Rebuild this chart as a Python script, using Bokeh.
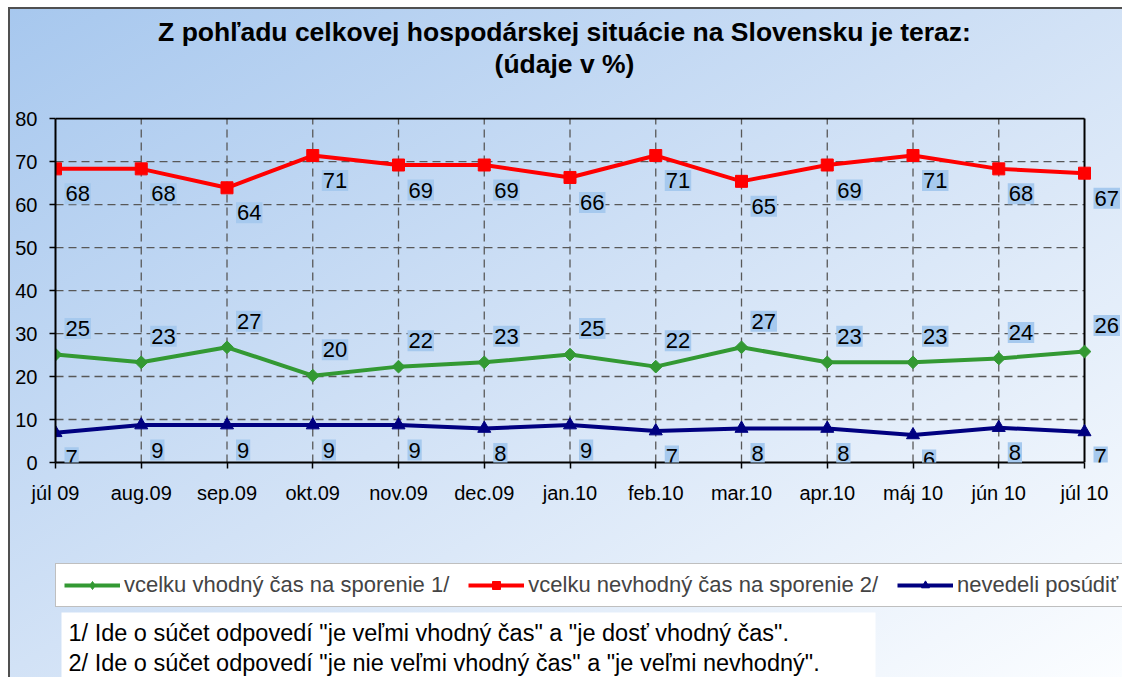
from bokeh.plotting import figure
from bokeh.layouts import column
from bokeh.models import Range1d, FixedTicker, Label, Legend, LegendItem, BoxAnnotation
from bokeh.embed import file_html
from bokeh.resources import INLINE
import math

months = ["júl 09", "aug.09", "sep.09", "okt.09", "nov.09", "dec.09", "jan.10",
          "feb.10", "mar.10", "apr.10", "máj 10", "jún 10", "júl 10"]
vhodny = [25.1, 23.3, 26.8, 20.2, 22.3, 23.3, 25.1, 22.3, 26.8, 23.3, 23.3, 24.2, 25.8]
nevhodny = [68.3, 68.3, 63.9, 71.4, 69.2, 69.2, 66.3, 71.4, 65.4, 69.2, 71.4, 68.3, 67.3]
nevedeli = [6.9, 8.7, 8.7, 8.7, 8.7, 7.9, 8.7, 7.3, 7.9, 7.9, 6.4, 8.1, 7.1]
y_ticks = [0, 10, 20, 30, 40, 50, 60, 70, 80]

title_lines = ["Z pohľadu celkovej hospodárskej situácie na Slovensku je teraz:", "(údaje v %)"]
series_names = ["vcelku vhodný čas na sporenie 1/", "vcelku nevhodný čas na sporenie 2/", "nevedeli posúdiť"]
foot = ['1/ Ide o súčet odpovedí "je veľmi vhodný čas" a  "je dosť vhodný čas".',
        '2/ Ide o súčet odpovedí "je nie veľmi vhodný čas" a "je veľmi nevhodný".']

FONT = "Liberation Sans"
W = 1122
LEFT = 55
x = list(range(len(months)))
x_last = x[-1]


def bare(h):
    # plot frames in a column are aligned with the main chart's frame (starting at LEFT)
    f = figure(width=W, height=h, x_range=Range1d(LEFT, W), y_range=Range1d(h, 0),
               output_backend="svg", toolbar_location=None,
               x_axis_location=None, y_axis_location=None,
               min_border_left=0, min_border_right=0, min_border_top=0, min_border_bottom=0)
    f.grid.visible = False
    f.background_fill_alpha = 0
    f.border_fill_alpha = 0
    f.outline_line_color = None
    return f


# ---------- title strip ----------
top = bare(105)
for i, t in enumerate(title_lines):
    top.add_layout(Label(x=564, y=31 + 32 * i, text=t, text_font=FONT, text_font_size="26.5px",
                         text_font_style="bold", text_color="black",
                         text_align="center", text_baseline="alphabetic"))

# ---------- main chart ----------
p = figure(width=W, height=410, x_range=Range1d(0, 12.443), y_range=Range1d(0, 80.25),
           output_backend="svg", toolbar_location=None,
           min_border_left=LEFT, min_border_right=0, min_border_top=12, min_border_bottom=53)
p.background_fill_alpha = 0
p.border_fill_alpha = 0
p.outline_line_color = None

for ax in (p.xaxis[0], p.yaxis[0]):
    ax.axis_line_color = "black"
    ax.axis_line_width = 2
    ax.major_tick_in = 0
    ax.major_tick_out = 6
    ax.major_tick_line_color = "black"
    ax.major_tick_line_width = 1.5
    ax.minor_tick_line_color = None
    ax.major_label_text_font = FONT
    ax.major_label_text_font_size = "20px"
    ax.major_label_text_color = "black"

p.xaxis.ticker = FixedTicker(ticks=x)
p.xaxis.bounds = (0, x_last)
p.xaxis.major_label_overrides = {i: m for i, m in enumerate(months)}
p.xaxis.major_label_standoff = 13
p.yaxis.ticker = FixedTicker(ticks=y_ticks)
p.yaxis.bounds = (0, y_ticks[-1])
p.yaxis.major_label_standoff = 12
p.grid.visible = False

inner_y = y_ticks[1:-1]
inner_x = x[1:-1]
grid_kw = dict(line_color="#585858", line_dash="8 5", line_width=1.3)
p.segment(x0=[0] * len(inner_y), y0=inner_y, x1=[x_last] * len(inner_y), y1=inner_y, **grid_kw)
p.segment(x0=inner_x, y0=[0] * len(inner_x), x1=inner_x, y1=[y_ticks[-1]] * len(inner_x), **grid_kw)
p.segment(x0=[0, x_last], y0=[y_ticks[-1], 0], x1=[x_last, x_last], y1=[y_ticks[-1], y_ticks[-1]],
          line_color="black", line_width=2)

styles = [
    (vhodny, "#339933", "square", 9, math.pi / 4, 26, "diamond", 14),
    (nevhodny, "#ff0000", "square", 12, 0, -25, "square", 11),
    (nevedeli, "#000080", "triangle", 13, 0, -25, "triangle", 12),
]

for vals, col, mk, sz, ang, yoff, _, _ in styles:
    p.line(x, vals, line_color=col, line_width=4)
    p.scatter(x, vals, marker=mk, size=sz, angle=ang, fill_color=col, line_color=col)
    for xi, v in zip(x, vals):
        p.add_layout(Label(x=xi, y=v, x_offset=9, y_offset=yoff, text=f"{v:.0f}",
                           text_font=FONT, text_font_size="22px", text_color="black",
                           text_align="left", text_baseline="middle",
                           background_fill_color="#a6c9ee", background_fill_alpha=1,
                           padding=(1, 3)))

# ---------- legend + footnotes strip ----------
bot = bare(162)
items = []
nan = float("nan")
for name, (vals, col, mk, sz, ang, yoff, lmk, lsz) in zip(series_names, styles):
    lr = bot.line([nan], [nan], line_color=col, line_width=4)
    sr = bot.scatter([nan], [nan], marker=lmk, size=lsz, fill_color=col, line_color=col)
    items.append(LegendItem(label=name, renderers=[lr, sr]))

legend = Legend(items=items, orientation="horizontal", location=(0, 70),
                spacing=19, glyph_width=56, glyph_height=20, label_height=20,
                label_standoff=4, padding=8, margin=0,
                border_line_color="#808080", border_line_width=1.5,
                background_fill_color="white", background_fill_alpha=1,
                label_text_font=FONT, label_text_font_size="22px")
bot.add_layout(legend, "center")

bot.add_layout(BoxAnnotation(left=61, right=875, top=97, bottom=162,
                             fill_color="white", fill_alpha=1, line_color=None))
for i, t in enumerate(foot):
    bot.add_layout(Label(x=68, y=117 + 30 * i, text=t, text_font=FONT, text_font_size="23.5px",
                         text_color="black", text_align="left", text_baseline="middle"))

layout = column(top, p, bot, spacing=0)
layout.styles = {"background": "linear-gradient(to bottom right, #a6c7ee 0%, #d2e2f6 50%, #fbfdff 100%)",
                 "box-shadow": "inset 8px 7px 0 0 #ffffff, inset 10px 9px 0 0 #505050"}

open("out.html", "w").write(file_html(layout, INLINE))
